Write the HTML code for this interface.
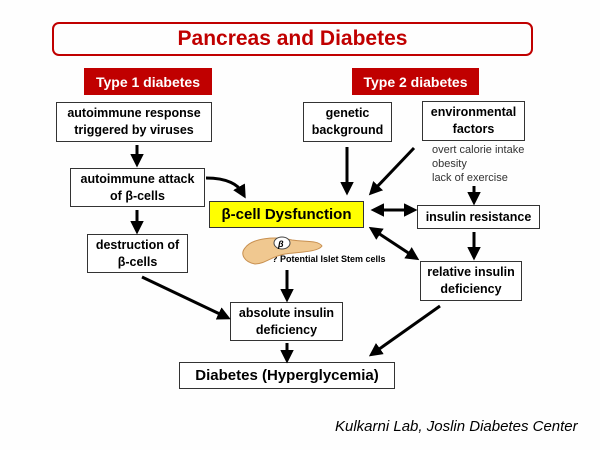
<!DOCTYPE html>
<html><head><style>
body{margin:0;background:#fff;}
#c{position:relative;width:600px;height:450px;background:#fefefe;font-family:"Liberation Sans",sans-serif;font-weight:bold;color:#000;overflow:hidden}
.b{position:absolute;border:1.5px solid #333;background:#fff;box-sizing:border-box;display:flex;align-items:center;justify-content:center;text-align:center;font-size:12.5px;line-height:17px}
.r{position:absolute;background:#c00000;color:#fff;font-size:14px;display:flex;align-items:center;justify-content:center}
svg{position:absolute;left:0;top:0}
</style></head><body><div id="c">
<div style="position:absolute;left:52px;top:22px;width:481px;height:34px;border:2px solid #c00000;border-radius:7px;box-sizing:border-box;display:flex;align-items:center;justify-content:center;color:#c00000;font-size:21px;">Pancreas and Diabetes</div>
<div class="r" style="left:84px;top:68px;width:128px;height:27px">Type 1 diabetes</div>
<div class="r" style="left:352px;top:68px;width:127px;height:27px">Type 2 diabetes</div>
<div class="b" style="left:56px;top:102px;width:156px;height:40px">autoimmune response<br>triggered by viruses</div>
<div class="b" style="left:303px;top:102px;width:89px;height:40px">genetic<br>background</div>
<div class="b" style="left:422px;top:101px;width:103px;height:40px">environmental<br>factors</div>
<div style="position:absolute;left:432px;top:143px;font-size:11px;font-weight:normal;line-height:14px;color:#333">overt calorie intake<br>obesity<br>lack of exercise</div>
<div class="b" style="left:70px;top:168px;width:135px;height:39px">autoimmune attack<br>of β-cells</div>
<div class="b" style="left:209px;top:201px;width:155px;height:27px;background:#ffff00;font-size:15px">β-cell Dysfunction</div>
<div class="b" style="left:417px;top:205px;width:123px;height:24px">insulin resistance</div>
<div class="b" style="left:87px;top:234px;width:101px;height:39px">destruction of<br>β-cells</div>
<div class="b" style="left:420px;top:261px;width:102px;height:40px">relative insulin<br>deficiency</div>
<div class="b" style="left:230px;top:302px;width:113px;height:39px">absolute insulin<br>deficiency</div>
<div class="b" style="left:179px;top:362px;width:216px;height:27px;font-size:15px">Diabetes (Hyperglycemia)</div>
<div style="position:absolute;left:272px;top:254px;font-size:9px;white-space:nowrap">? Potential Islet Stem cells</div>
<div style="position:absolute;left:335px;top:418px;font-size:15px;font-style:italic;font-weight:normal;white-space:nowrap">Kulkarni Lab, Joslin Diabetes Center</div>
<svg width="600" height="450">
<defs><marker id="a" markerWidth="4.5" markerHeight="4.5" refX="2" refY="2.25" orient="auto"><path d="M0,0L4.5,2.25L0,4.5z" fill="#000"/></marker>
<marker id="s" markerWidth="4.5" markerHeight="4.5" refX="2" refY="2.25" orient="auto-start-reverse"><path d="M0,0L4.5,2.25L0,4.5z" fill="#000"/></marker></defs>
<path d="M245,248 C252,238 275,236 292,240 C305,242 318,240 322,246 C318,252 300,252 285,254 C272,256 265,264 255,264 C244,262 240,254 245,248z" fill="#f0c890" stroke="#c89050"/>
<ellipse cx="282" cy="243" rx="8" ry="6" fill="#fff" stroke="#444"/>
<text x="278" y="247" font-size="9" font-style="italic" font-family="Liberation Sans">β</text>
<g stroke="#000" stroke-width="3" fill="none" marker-end="url(#a)">
<line x1="137" y1="145" x2="137" y2="160"/>
<line x1="137" y1="210" x2="137" y2="227"/>
<path d="M206,178 C228,178 238,185 242,192"/>
<line x1="347" y1="147" x2="347" y2="188"/>
<line x1="414" y1="148" x2="374" y2="190"/>
<line x1="474" y1="186" x2="474" y2="198"/>
<line x1="474" y1="232" x2="474" y2="253"/>
<line x1="142" y1="277" x2="224" y2="316"/>
<line x1="287" y1="270" x2="287" y2="295"/>
<line x1="287" y1="343" x2="287" y2="356"/>
<line x1="440" y1="306" x2="375" y2="352"/>
<line x1="378" y1="210" x2="410" y2="210" marker-start="url(#s)"/>
<line x1="375" y1="231" x2="413" y2="256" marker-start="url(#s)"/>
</g></svg>
</div></body></html>
